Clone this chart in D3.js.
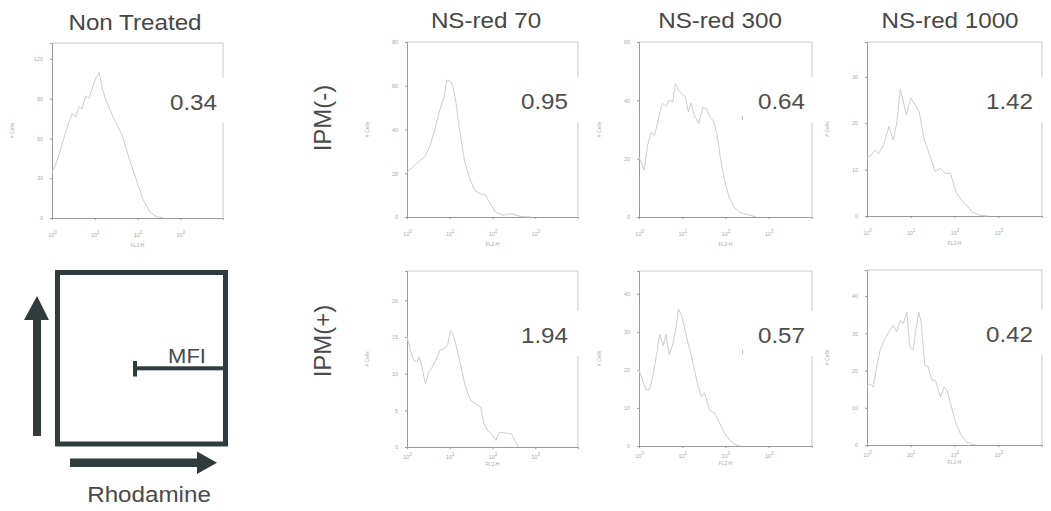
<!DOCTYPE html>
<html>
<head>
<meta charset="utf-8">
<script src="https://cdn.jsdelivr.net/npm/d3@7"></script>
<style>
  body { margin: 0; background: #fff; }
  svg { display: block; font-family: "Liberation Sans", Arial, sans-serif; }
</style>
</head>
<body>
<svg id="fig" width="1051" height="511"></svg>
<script>
// column titles, row labels and the MFI numbers printed in each histogram
var columnTitles = ["Non Treated", "NS-red 70", "NS-red 300", "NS-red 1000"];
var rowLabels = ["IPM(-)", "IPM(+)"];
var mfiValues = ["0.34", "0.95", "0.64", "1.42", "1.94", "0.57", "0.42"];

// y axis of each histogram (# Cells)
var yMax = [132, 80, 60, 37.5, 24, 46, 47];
var yTicks = [
  [0, 30, 60, 90, 120],
  [0, 20, 40, 60, 80],
  [0, 20, 40, 60],
  [0, 10, 20, 30],
  [0, 5, 10, 15, 20],
  [0, 10, 20, 30, 40],
  [0, 10, 20, 30, 40]
];
// x axis decades (FL2-H, log)
var xTickExp = [0, 1, 2, 3];

// histogram traces: log10(FL2-H) and # cells
var ntLog   = [0.00, 0.08, 0.16, 0.31, 0.47, 0.55, 0.63, 0.70, 0.79, 0.86, 0.94, 1.02, 1.10, 1.18, 1.26, 1.46, 1.65, 1.81, 1.97, 2.13, 2.28, 2.44, 2.60];
var ntCells = [34, 40, 47, 64, 79, 76, 84, 82, 92, 90, 98, 105, 110, 97, 89, 74, 62, 44, 29, 14, 5, 1, 0];

var m70Log   = [0.00, 0.20, 0.41, 0.53, 0.65, 0.77, 0.87, 0.93, 1.02, 1.08, 1.14, 1.22, 1.34, 1.46, 1.59, 1.71, 1.83, 1.95, 2.07, 2.24, 2.44, 2.64, 2.89];
var m70Cells = [20.6, 24, 27.5, 32, 40, 49, 55, 62.6, 62, 59.5, 53, 41, 26, 18, 12, 10.7, 10, 6, 2.3, 0.8, 1.5, 0.3, 0];

var m300Log   = [0.00, 0.12, 0.20, 0.28, 0.36, 0.44, 0.54, 0.62, 0.70, 0.78, 0.84, 0.92, 1.00, 1.08, 1.14, 1.20, 1.28, 1.38, 1.48, 1.56, 1.64, 1.72, 1.80, 1.88, 1.96, 2.08, 2.20, 2.32, 2.44, 2.56, 2.72];
var m300Cells = [20.6, 16, 24.6, 29, 28, 33, 39, 38, 40, 39.4, 45.7, 43.4, 42.3, 41, 36, 39, 34.9, 32, 37.7, 37, 34.3, 33, 28.6, 20.6, 13.7, 6.9, 3.4, 1.7, 1.1, 0.6, 0];

var m1000Log   = [0.00, 0.10, 0.18, 0.26, 0.38, 0.50, 0.60, 0.68, 0.76, 0.84, 0.90, 1.00, 1.08, 1.19, 1.31, 1.43, 1.56, 1.67, 1.79, 1.91, 2.03, 2.15, 2.27, 2.40, 2.56, 2.76];
var m1000Cells = [12.4, 13.2, 14.2, 13.4, 15.3, 19.3, 16.4, 20, 27.3, 24.3, 21.8, 25.4, 24.3, 22.5, 16.4, 13.2, 9.6, 10.3, 9.2, 9.2, 5.3, 3.5, 2.4, 0.9, 0.2, 0];

var p70Log   = [0.00, 0.08, 0.16, 0.23, 0.29, 0.35, 0.43, 0.51, 0.59, 0.67, 0.77, 0.87, 0.95, 1.02, 1.07, 1.13, 1.23, 1.35, 1.48, 1.60, 1.72, 1.80, 1.88, 2.00, 2.08, 2.16, 2.32, 2.44, 2.52, 2.60];
var p70Cells = [15, 13.2, 11.8, 11.6, 12.3, 10.9, 8.6, 10.2, 10.9, 11.8, 13.2, 13.4, 13.9, 15.9, 15.5, 14.3, 11.8, 8.6, 6.4, 5.9, 5.5, 3.2, 2.3, 1.6, 0.9, 2, 1.9, 1.8, 0.9, 0];

var p300Log   = [0.00, 0.08, 0.16, 0.24, 0.32, 0.40, 0.48, 0.56, 0.62, 0.70, 0.78, 0.86, 0.91, 0.99, 1.05, 1.13, 1.23, 1.35, 1.44, 1.52, 1.63, 1.75, 1.87, 1.98, 2.10, 2.22, 2.34];
var p300Cells = [20, 17.4, 14.8, 14.8, 18.3, 23.6, 29.4, 26.3, 29.4, 24, 26.7, 31.2, 36, 34.2, 31.2, 27.2, 22.7, 16.5, 13, 13.9, 9.5, 8.6, 5.9, 3.3, 1.5, 0.4, 0];

var p1000Log   = [0.00, 0.06, 0.14, 0.22, 0.30, 0.39, 0.50, 0.60, 0.68, 0.76, 0.83, 0.91, 0.98, 1.05, 1.13, 1.18, 1.24, 1.32, 1.40, 1.48, 1.56, 1.68, 1.76, 1.83, 1.91, 2.03, 2.15, 2.27, 2.39, 2.50];
var p1000Cells = [15.6, 16.5, 15.6, 21, 25.4, 28.1, 30.4, 32.1, 30.4, 33.5, 32.6, 35.7, 26.3, 25.4, 31.7, 35.7, 33, 21.4, 21, 17.4, 17.4, 12.9, 15.6, 14.7, 11.2, 5.8, 2.7, 0.9, 0.2, 0];

var traceLogs  = [ntLog, m70Log, m300Log, m1000Log, p70Log, p300Log, p1000Log];
var traceCells = [ntCells, m70Cells, m300Cells, m1000Cells, p70Cells, p300Cells, p1000Cells];

// layout of the panels on the page
var frames = [
  {x: 52,  y: 43,  w: 171, h: 175, row: 0, col: 0},
  {x: 407, y: 42,  w: 171, h: 175, row: 0, col: 1},
  {x: 639, y: 42,  w: 173, h: 175, row: 0, col: 2},
  {x: 867, y: 42,  w: 175, h: 174, row: 0, col: 3},
  {x: 407, y: 271, w: 171, h: 176, row: 1, col: 1},
  {x: 639, y: 271, w: 173, h: 175, row: 1, col: 2},
  {x: 867, y: 270, w: 175, h: 175, row: 1, col: 3}
];
var numRight = [-6, -10, -7, -9];      // right edge of MFI number vs frame right, by column
var numBase = [67, 72];                // MFI baseline below frame top, by row
var xLabelPad = [13, 6];               // x tick label distance, by row
var xTitlePad = [29, 19];

var svg = d3.select("#fig");
var stretch = 1.1;   // the scanned figure is a little wider than the font

function wideText(sel, x, y, str, size, anchor, color)
{
    return sel.append("text")
        .attr("transform", "translate(" + x + "," + y + ") scale(" + stretch + ",1)")
        .attr("text-anchor", anchor)
        .attr("font-size", size)
        .attr("fill", color)
        .text(str);
}

// column titles
var titleX = [135, 486, 720, 950];
columnTitles.forEach(function(t, i)
{
    wideText(svg, titleX[i], i == 0 ? 30 : 28, t, 22, "middle", "#474747");
});

// row labels
var rowY = [118, 341];
rowLabels.forEach(function(t, i)
{
    svg.append("text")
        .attr("transform", "translate(331," + rowY[i] + ") rotate(-90)")
        .attr("text-anchor", "middle")
        .attr("font-size", 24)
        .attr("fill", "#4a4a4a")
        .text(t);
});

frames.forEach(function(f, i)
{
    var g = svg.append("g").attr("transform", "translate(" + f.x + "," + f.y + ")");

    var x = d3.scaleLog().domain([1, 10000]).range([0, f.w]);
    var y = d3.scaleLinear().domain([0, yMax[i]]).range([f.h, 0]);

    // frame: top and right lighter than the axes
    g.append("path")
        .attr("d", "M0,0H" + f.w + "V" + f.h)
        .attr("fill", "none").attr("stroke", "#c8c8c8").attr("stroke-width", 1);

    var yAxis = g.append("g")
        .call(d3.axisLeft(y).tickValues(yTicks[i]).tickSize(2).tickPadding(7));
    yAxis.select(".domain").attr("stroke", "#9a9a9a");
    yAxis.selectAll("line").attr("stroke", "#9a9a9a");
    yAxis.selectAll("text").attr("font-size", 5.5).attr("fill", "#aaa");

    var xAxis = g.append("g")
        .attr("transform", "translate(0," + f.h + ")")
        .call(d3.axisBottom(x).tickValues(xTickExp.map(function(e) { return Math.pow(10, e); }))
            .tickSize(2).tickPadding(xLabelPad[f.row]).tickFormat(function() { return "10"; }));
    xAxis.select(".domain").attr("stroke", "#9a9a9a");
    xAxis.selectAll("line").attr("stroke", "#9a9a9a");
    xAxis.selectAll("text").attr("font-size", 5.5).attr("fill", "#aaa")
        .append("tspan").attr("dy", -3).attr("font-size", 4.5)
        .text(function(d) { return Math.round(Math.log10(d)); });

    g.append("text")
        .attr("x", f.w / 2).attr("y", f.h + xTitlePad[f.row])
        .attr("text-anchor", "middle").attr("font-size", 5).attr("fill", "#aaa")
        .text("FL2-H");
    g.append("text")
        .attr("transform", "translate(-38," + (f.h / 2) + ") rotate(-90)")
        .attr("text-anchor", "middle").attr("font-size", 5).attr("fill", "#aaa")
        .text("# Cells");

    // histogram trace
    var pts = traceLogs[i].map(function(v, k) { return [Math.pow(10, v), traceCells[i][k]]; });
    g.append("path")
        .datum(pts)
        .attr("fill", "none")
        .attr("stroke", "#cdcdcd")
        .attr("stroke-width", 1)
        .attr("d", d3.line().x(function(d) { return x(d[0]); }).y(function(d) { return y(d[1]); }));

    // MFI number on a white patch that breaks the right edge
    var base = numBase[f.row];
    var patch = g.append("rect").attr("fill", "#fff");
    var num = wideText(g, f.w + numRight[f.col], base, mfiValues[i], 22, "end", "#4d4d4d");
    var bw = num.node().getBBox().width * stretch;
    patch
        .attr("x", f.w + numRight[f.col] - bw - 4)
        .attr("y", base - 32)
        .attr("width", bw + 4 - numRight[f.col] + 3)
        .attr("height", 45);

    // small marker left of the number in the NS-red 300 panels
    if (f.col == 2)
    {
        g.append("line")
            .attr("x1", 103.5).attr("x2", 103.5)
            .attr("y1", base + 7).attr("y2", base + 11)
            .attr("stroke", "#bbb").attr("stroke-width", 1);
    }
});

// schematic of the MFI readout
var ink = "#2f3b3d";
var sk = svg.append("g");
sk.append("rect")
    .attr("x", 57.5).attr("y", 272.5).attr("width", 168).attr("height", 171.5)
    .attr("fill", "none").attr("stroke", ink).attr("stroke-width", 5);
// up arrow
sk.append("rect").attr("x", 33).attr("y", 318).attr("width", 8).attr("height", 118).attr("fill", ink);
sk.append("path").attr("d", "M24,320L37,296L49,320Z").attr("fill", ink);
// right arrow
sk.append("rect").attr("x", 70).attr("y", 458.5).attr("width", 129).attr("height", 8.5).attr("fill", ink);
sk.append("path").attr("d", "M197,451.5L217,462.7L197,474Z").attr("fill", ink);
// MFI bar
sk.append("rect").attr("x", 135).attr("y", 366.3).attr("width", 90).attr("height", 4).attr("fill", ink);
sk.append("rect").attr("x", 133).attr("y", 361).attr("width", 4).attr("height", 15.5).attr("fill", ink);
wideText(sk, 187, 363, "MFI", 20, "middle", "#4a4a4a");
wideText(sk, 149, 502, "Rhodamine", 22, "middle", "#4a4a4a");
</script>
</body>
</html>
